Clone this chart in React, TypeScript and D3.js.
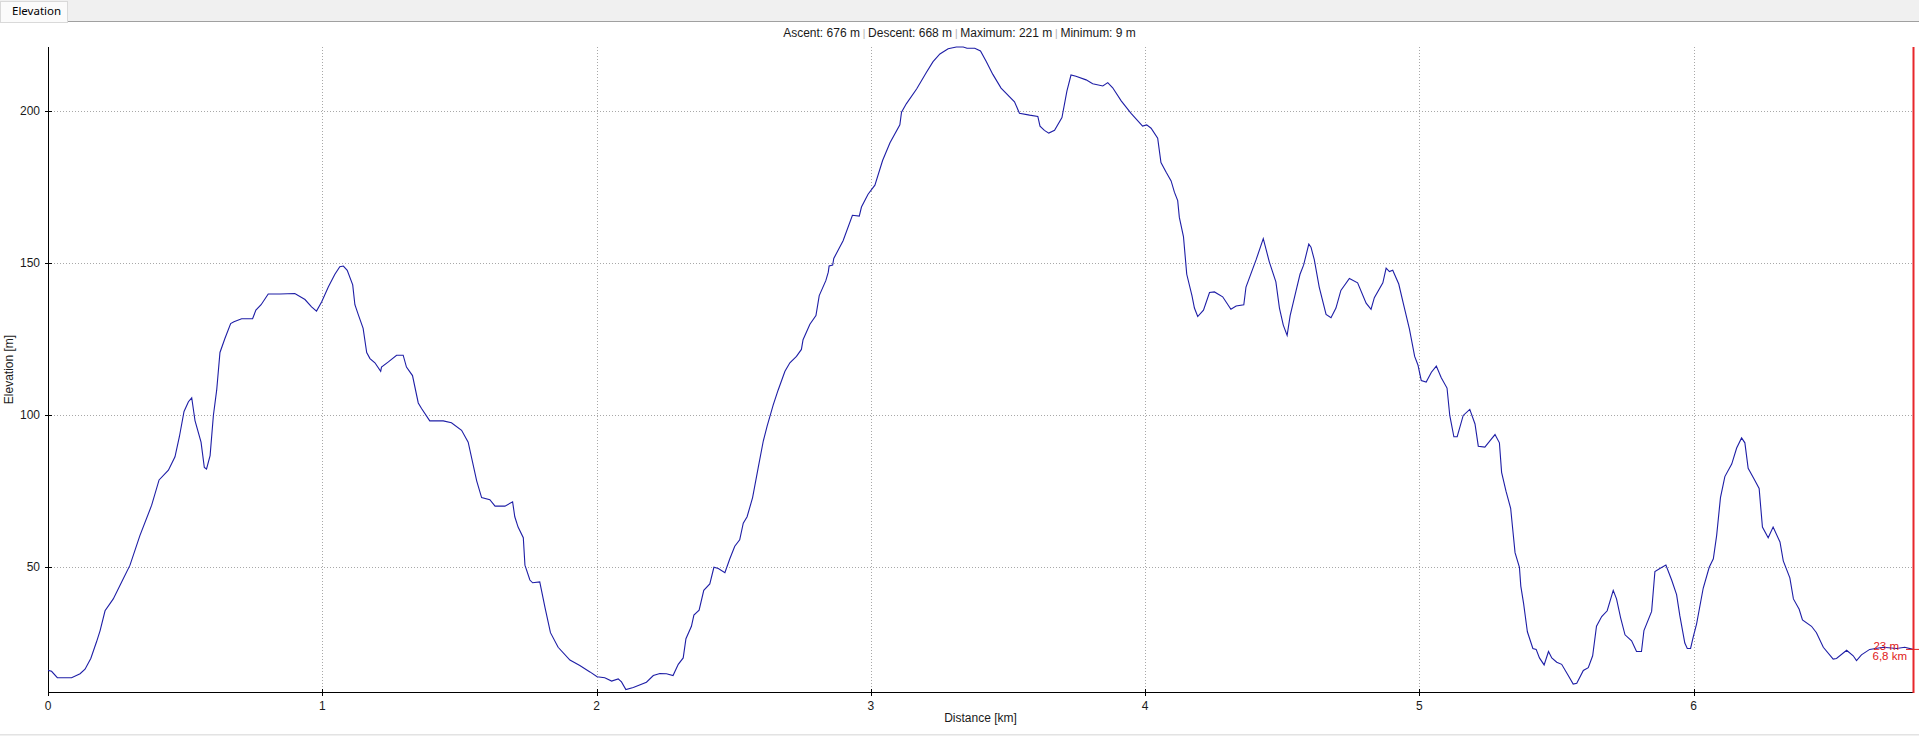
import { useEffect, useRef } from 'react';
import * as d3 from 'd3';

// distance along the track [km] and elevation [m], read from the profile
const distKm = [
  0, 0.013, 0.034, 0.086, 0.117, 0.135, 0.156, 0.177, 0.19, 0.208, 0.238, 0.269, 0.299, 0.335, 0.378, 0.405,
  0.439, 0.463, 0.479, 0.496, 0.512, 0.524, 0.536, 0.558, 0.57, 0.578, 0.591, 0.603, 0.615, 0.627, 0.645, 0.666,
  0.678, 0.706, 0.746, 0.758, 0.777, 0.803, 0.846, 0.9, 0.937, 0.961, 0.979, 0.998, 1.022, 1.046, 1.064, 1.077,
  1.091, 1.111, 1.119, 1.131, 1.149, 1.162, 1.174, 1.192, 1.213, 1.216, 1.241, 1.271, 1.295, 1.307, 1.329, 1.35,
  1.362, 1.392, 1.441, 1.471, 1.508, 1.532, 1.563, 1.581, 1.611, 1.63, 1.666, 1.694, 1.702, 1.714, 1.733, 1.739,
  1.757, 1.767, 1.793, 1.812, 1.832, 1.86, 1.903, 1.939, 1.976, 2.002, 2.03, 2.055, 2.079, 2.091, 2.107, 2.134,
  2.182, 2.207, 2.231, 2.255, 2.279, 2.298, 2.316, 2.326, 2.346, 2.355, 2.374, 2.391, 2.413, 2.428, 2.444, 2.468,
  2.486, 2.504, 2.522, 2.535, 2.549, 2.569, 2.589, 2.608, 2.622, 2.644, 2.662, 2.687, 2.705, 2.729, 2.747, 2.753,
  2.778, 2.8, 2.812, 2.836, 2.845, 2.848, 2.861, 2.865, 2.899, 2.933, 2.958, 2.966, 2.99, 3.015, 3.043, 3.07,
  3.106, 3.112, 3.13, 3.167, 3.203, 3.227, 3.252, 3.282, 3.312, 3.337, 3.351, 3.379, 3.4, 3.421, 3.445, 3.475,
  3.524, 3.542, 3.579, 3.609, 3.617, 3.633, 3.649, 3.67, 3.697, 3.715, 3.73, 3.748, 3.785, 3.809, 3.846, 3.864,
  3.882, 3.913, 3.949, 3.991, 4.006, 4.022, 4.046, 4.058, 4.077, 4.095, 4.107, 4.119, 4.125, 4.14, 4.152, 4.171,
  4.18, 4.192, 4.213, 4.235, 4.253, 4.283, 4.313, 4.332, 4.36, 4.368, 4.405, 4.431, 4.453, 4.477, 4.49, 4.504,
  4.518, 4.529, 4.55, 4.565, 4.578, 4.597, 4.605, 4.617, 4.635, 4.66, 4.678, 4.696, 4.714, 4.745, 4.775, 4.806,
  4.824, 4.836, 4.867, 4.879, 4.891, 4.903, 4.925, 4.942, 4.964, 4.983, 4.995, 5.007, 5.025, 5.044, 5.062, 5.08,
  5.101, 5.111, 5.126, 5.138, 5.16, 5.184, 5.203, 5.215, 5.239, 5.258, 5.276, 5.292, 5.3, 5.316, 5.333, 5.349,
  5.365, 5.37, 5.38, 5.394, 5.414, 5.426, 5.438, 5.455, 5.471, 5.483, 5.501, 5.519, 5.543, 5.561, 5.574, 5.598,
  5.616, 5.632, 5.646, 5.665, 5.685, 5.707, 5.719, 5.734, 5.75, 5.774, 5.792, 5.81, 5.819, 5.847, 5.859, 5.877,
  5.899, 5.92, 5.938, 5.95, 5.968, 5.977, 5.989, 5.999, 6.011, 6.035, 6.057, 6.072, 6.084, 6.098, 6.114, 6.139,
  6.157, 6.175, 6.187, 6.199, 6.22, 6.239, 6.251, 6.272, 6.29, 6.315, 6.327, 6.351, 6.364, 6.385, 6.397, 6.43,
  6.448, 6.473, 6.509, 6.521, 6.558, 6.582, 6.594, 6.612, 6.642, 6.691, 6.74, 6.77, 6.8,
];
const elevM = [
  16.1, 15.8, 13.7, 13.7, 15.0, 16.5, 20.0, 25.5, 29.2, 35.7, 39.6, 45.2, 50.7, 60.4, 70.4, 78.7,
  81.9, 86.3, 92.9, 101.2, 104.4, 105.7, 98.2, 91.1, 82.8, 82.3, 86.7, 99.9, 108.2, 120.6, 125.2, 130.1,
  130.7, 131.7, 131.7, 134.5, 136.3, 139.8, 139.8, 140.0, 138.0, 135.6, 134.2, 137.3, 142.1, 146.3, 148.8, 149.0,
  147.6, 142.8, 136.3, 133.1, 128.5, 120.6, 118.6, 117.2, 114.4, 115.8, 117.5, 119.7, 119.7, 115.8, 113.0, 104.0,
  102.2, 98.1, 98.1, 97.5, 95.0, 91.1, 78.4, 72.9, 72.2, 70.1, 70.1, 71.5, 66.6, 63.2, 59.7, 50.7,
  45.8, 44.9, 45.2, 36.8, 28.5, 23.7, 19.5, 17.7, 15.6, 14.0, 13.7, 12.6, 13.3, 12.3, 9.8, 10.5,
  12.2, 14.4, 15.1, 15.0, 14.4, 18.1, 20.2, 26.5, 30.6, 34.3, 35.9, 42.4, 44.5, 50.0, 49.6, 48.2,
  52.8, 56.9, 59.0, 64.5, 66.6, 72.9, 82.5, 91.5, 96.4, 103.3, 108.2, 114.4, 117.2, 119.3, 121.6, 124.8,
  129.9, 132.7, 139.3, 144.2, 147.0, 149.0, 149.3, 151.5, 157.3, 165.7, 165.4, 168.4, 172.6, 175.6, 183.7, 189.5,
  195.4, 199.6, 202.4, 207.2, 212.7, 216.2, 218.7, 220.4, 221.0, 221.0, 220.6, 220.6, 219.7, 216.2, 212.0, 207.5,
  203.0, 199.2, 198.6, 198.2, 195.0, 193.6, 192.7, 193.6, 197.8, 206.5, 211.8, 211.4, 210.2, 208.9, 208.2, 209.3,
  207.6, 203.3, 199.2, 195.0, 195.4, 194.3, 191.0, 183.0, 179.8, 177.0, 173.3, 170.5, 165.0, 158.7, 146.3, 139.3,
  135.2, 132.4, 134.5, 140.3, 140.5, 138.9, 134.8, 135.9, 136.3, 142.1, 151.1, 158.0, 150.4, 143.8, 135.2, 129.6,
  126.2, 132.7, 140.7, 146.3, 149.3, 156.2, 155.2, 151.1, 142.1, 133.1, 132.0, 135.2, 141.0, 144.9, 143.5, 136.8,
  134.8, 138.6, 143.5, 148.3, 147.2, 147.6, 143.1, 136.6, 128.3, 119.3, 116.5, 111.4, 110.9, 114.1, 116.1, 112.3,
  108.9, 99.9, 92.9, 92.9, 99.9, 101.9, 97.1, 89.8, 89.5, 91.6, 93.6, 90.9, 81.2, 75.0, 69.4, 54.8,
  50.0, 43.8, 38.2, 28.8, 23.3, 23.0, 20.2, 17.9, 22.3, 20.2, 18.8, 18.1, 14.4, 11.6, 11.9, 16.1,
  17.0, 20.9, 30.6, 33.8, 35.7, 42.4, 39.6, 33.4, 27.8, 25.8, 22.3, 22.3, 29.2, 35.5, 48.6, 49.6,
  50.7, 45.8, 41.0, 34.0, 25.1, 23.3, 23.3, 27.2, 31.4, 43.1, 50.0, 52.8, 60.4, 72.9, 79.8, 83.9,
  89.2, 92.5, 90.9, 82.5, 79.1, 75.9, 63.2, 59.7, 63.2, 58.3, 52.1, 46.5, 39.6, 36.2, 32.7, 30.6,
  28.5, 23.7, 19.8, 20.0, 22.7, 20.9, 19.3, 21.2, 23.0, 23.7, 23.3, 23.7, 23.0,
];

const xTicks = [0, 1, 2, 3, 4, 5, 6];
const yTicks = [50, 100, 150, 200];
const summary = ['Ascent: 676 m', 'Descent: 668 m', 'Maximum: 221 m', 'Minimum: 9 m'];
const cursorLabels = ['23 m', '6,8 km'];
const cursorKm = 6.8;
const cursorElev = 23;

const W = 1919;
const H = 736;
const margin = { top: 47, right: 6, bottom: 44, left: 48 };
const axisFont = '"Liberation Sans", Arial, sans-serif';

const App = () => {
  const ref = useRef<SVGSVGElement>(null);

  useEffect(() => {
    document.body.style.margin = '0';
    const svg = d3.select(ref.current);
    svg.selectAll('*').remove();

    const x = d3.scaleLinear().domain([0, 6.8]).range([margin.left, W - margin.right]);
    const y = d3.scaleLinear().domain([9, 221]).range([H - margin.bottom, margin.top]);
    const x0 = x.range()[0];
    const x1 = x.range()[1];
    const yb = y.range()[0];
    const yt = y.range()[1];

    svg.append('rect').attr('width', W).attr('height', H).attr('fill', '#ffffff');

    // tab strip
    svg.append('rect').attr('x', 0).attr('y', 0).attr('width', W).attr('height', 21).attr('fill', '#f0f0f0');
    svg.append('line').attr('x1', 67).attr('x2', W).attr('y1', 21.5).attr('y2', 21.5).attr('stroke', '#a0a0a0');
    svg.append('rect').attr('x', 0.5).attr('y', 1.5).attr('width', 67).attr('height', 21).attr('fill', '#fbfbfb')
      .attr('stroke', '#d9d9d9');
    svg.append('text').attr('x', 12).attr('y', 15).attr('font-family', '"Noto Sans", "Open Sans", sans-serif')
      .attr('font-size', 11.5).attr('fill', '#000').text('Elevation');

    // bottom strip
    svg.append('rect').attr('x', 0).attr('y', 734).attr('width', W).attr('height', 2).attr('fill', '#f0f0f0');
    svg.append('line').attr('x1', 0).attr('x2', W).attr('y1', 734.5).attr('y2', 734.5).attr('stroke', '#e3e3e3');

    // summary line
    const t = svg.append('text').attr('x', (x0 + x1) / 2 - 21).attr('y', 36.5).attr('text-anchor', 'middle')
      .attr('font-family', axisFont).attr('font-size', 12).attr('fill', '#1a1a1a');
    summary.forEach((s, i) => {
      if (i > 0) t.append('tspan').attr('fill', '#b0b0b0').attr('font-size', 10).text(' | ');
      t.append('tspan').text(s);
    });

    // grid
    const grid = svg.append('g').attr('stroke', '#a8a8a8').attr('stroke-dasharray', '1,2').attr('shape-rendering', 'crispEdges');
    yTicks.forEach((v) => {
      grid.append('line').attr('x1', x0).attr('x2', x1 - 1).attr('y1', Math.round(y(v)) + 0.5).attr('y2', Math.round(y(v)) + 0.5);
    });
    xTicks.slice(1).forEach((v) => {
      grid.append('line').attr('y1', yt).attr('y2', yb).attr('x1', Math.round(x(v)) + 0.5).attr('x2', Math.round(x(v)) + 0.5);
    });

    // axes
    const ax = svg.append('g').attr('stroke', '#000').attr('shape-rendering', 'crispEdges');
    ax.append('line').attr('x1', x0 + 0.5).attr('x2', x0 + 0.5).attr('y1', yt).attr('y2', yb);
    ax.append('line').attr('x1', x0).attr('x2', x1).attr('y1', yb + 0.5).attr('y2', yb + 0.5);
    yTicks.forEach((v) => {
      const yy = Math.round(y(v)) + 0.5;
      ax.append('line').attr('x1', x0 - 3).attr('x2', x0 + 4).attr('y1', yy).attr('y2', yy);
    });
    xTicks.forEach((v) => {
      const xx = Math.round(x(v)) + 0.5;
      ax.append('line').attr('x1', xx).attr('x2', xx).attr('y1', yb - 3).attr('y2', yb + 4);
    });

    const labels = svg.append('g').attr('font-family', axisFont).attr('font-size', 12).attr('fill', '#1a1a1a');
    yTicks.forEach((v) => {
      labels.append('text').attr('x', x0 - 8).attr('y', y(v) + 4).attr('text-anchor', 'end').text(String(v));
    });
    xTicks.forEach((v) => {
      labels.append('text').attr('x', x(v)).attr('y', yb + 18).attr('text-anchor', 'middle').text(String(v));
    });
    labels.append('text').attr('x', (x0 + x1) / 2).attr('y', yb + 30).attr('text-anchor', 'middle').text('Distance [km]');
    labels.append('text').attr('transform', `translate(13,${(yt + yb) / 2}) rotate(-90)`).attr('text-anchor', 'middle')
      .text('Elevation [m]');

    // profile
    const pts = distKm.map((d, i) => [d, elevM[i]] as [number, number]);
    const line = d3.line<[number, number]>().x((d) => x(d[0])).y((d) => y(d[1]));
    svg.append('path').attr('d', line(pts)).attr('fill', 'none').attr('stroke', '#1e1ea6').attr('stroke-width', 1.1);

    // cursor
    const cx = x(cursorKm);
    svg.append('rect').attr('x', cx - 0.5).attr('y', yt).attr('width', 2).attr('height', yb + 1 - yt)
      .attr('fill', '#e8262b');
    svg.append('line').attr('x1', cx - 7).attr('x2', W).attr('y1', y(cursorElev)).attr('y2', y(cursorElev)).attr('stroke', '#e02020');
    const cl = svg.append('g').attr('font-family', axisFont).attr('font-size', 11.5).attr('fill', '#e02020').attr('text-anchor', 'end');
    cl.append('text').attr('x', cx - 14).attr('y', y(cursorElev) + 1).text(cursorLabels[0]);
    cl.append('text').attr('x', cx - 6).attr('y', y(cursorElev) + 11).text(cursorLabels[1]);
  }, []);

  return <svg ref={ref} width={W} height={H} style={{ display: 'block', position: 'absolute', left: 0, top: 0 }} />;
};

export default App;
